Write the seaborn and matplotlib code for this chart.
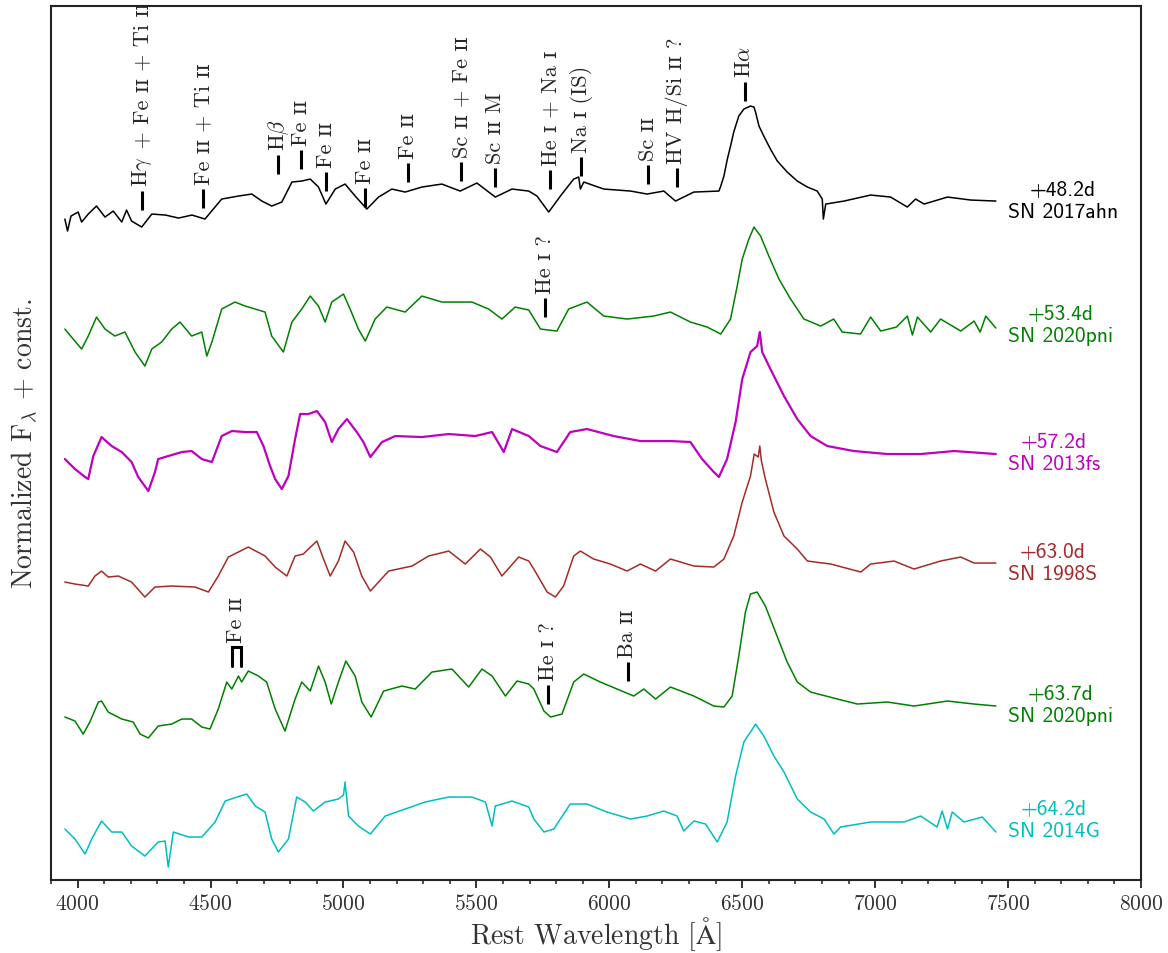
import numpy as np
import pandas as pd
import matplotlib
matplotlib.use("Agg")
import matplotlib.pyplot as plt
from matplotlib.ticker import MultipleLocator
import seaborn as sns

sns.set_style("ticks")
plt.rcParams["mathtext.fontset"] = "cm"
plt.rcParams["font.family"] = ["cmr10", "DejaVu Serif"]
plt.rcParams["axes.formatter.use_mathtext"] = True

# ---- spectra: rest wavelength [A] and normalized flux ----
wave_2017ahn = [3952, 3962, 3975, 4002, 4015, 4040, 4071, 4103, 4134, 4166, 4184, 4203, 4241, 4279,
                4330, 4380, 4430, 4479, 4542, 4605, 4655, 4693, 4730, 4768, 4806, 4843, 4875, 4906,
                4934, 4969, 5006, 5044, 5088, 5132, 5182, 5232, 5295, 5370, 5439, 5502, 5571, 5634,
                5697, 5728, 5772, 5816, 5866, 5885, 5891, 5904, 5979, 6080, 6142, 6205, 6249, 6318,
                6412, 6418, 6431, 6444, 6456, 6468, 6487, 6506, 6531, 6544, 6550, 6563, 6581, 6606,
                6632, 6669, 6707, 6745, 6782, 6801, 6805, 6814, 6883, 6983, 7058, 7121, 7152, 7184,
                7272, 7360, 7454]
flux_2017ahn = [0.81, 0.69, 0.84, 0.88, 0.78, 0.86, 0.94, 0.83, 0.89, 0.78, 0.90, 0.79, 0.73, 0.86,
                0.85, 0.82, 0.85, 0.81, 1.01, 1.04, 1.06, 0.99, 0.94, 0.98, 1.18, 1.19, 1.21, 1.13,
                0.96, 1.11, 1.16, 1.04, 0.91, 1.03, 1.11, 1.08, 1.13, 1.16, 1.09, 1.17, 1.03, 1.11,
                1.09, 1.04, 0.88, 1.04, 1.21, 1.23, 1.11, 1.18, 1.11, 1.09, 1.06, 1.09, 0.99, 1.08,
                1.09, 1.13, 1.24, 1.41, 1.54, 1.68, 1.84, 1.91, 1.94, 1.93, 1.88, 1.74, 1.64, 1.51,
                1.39, 1.28, 1.19, 1.13, 1.09, 1.01, 0.81, 0.96, 0.99, 1.05, 1.03, 0.93, 1.01, 0.96,
                1.03, 1.00, 0.99]

wave_2020pni_a = [3952, 3977, 4015, 4040, 4071, 4103, 4140, 4178, 4216, 4253, 4279, 4316, 4354, 4385,
                  4429, 4467, 4486, 4505, 4542, 4592, 4630, 4668, 4705, 4730, 4774, 4806, 4843, 4875,
                  4906, 4931, 4956, 5000, 5025, 5056, 5082, 5119, 5163, 5232, 5295, 5370, 5483, 5546,
                  5596, 5646, 5697, 5741, 5803, 5847, 5916, 5979, 6067, 6167, 6230, 6305, 6368, 6419,
                  6456, 6481, 6500, 6525, 6544, 6569, 6600, 6638, 6682, 6732, 6795, 6844, 6876, 6945,
                  6983, 7021, 7080, 7121, 7140, 7159, 7209, 7246, 7322, 7372, 7395, 7416, 7454]
flux_2020pni_a = [1.01, 0.93, 0.81, 0.94, 1.13, 1.01, 0.94, 0.98, 0.78, 0.64, 0.81, 0.88, 1.01, 1.08,
                  0.94, 0.98, 0.74, 0.88, 1.21, 1.28, 1.24, 1.21, 1.18, 0.94, 0.78, 1.08, 1.21, 1.34,
                  1.24, 1.08, 1.28, 1.36, 1.21, 1.01, 0.89, 1.11, 1.23, 1.18, 1.34, 1.28, 1.28, 1.21,
                  1.11, 1.23, 1.20, 1.01, 0.99, 1.21, 1.28, 1.14, 1.11, 1.14, 1.18, 1.08, 1.03, 0.96,
                  1.11, 1.44, 1.71, 1.91, 2.03, 1.94, 1.74, 1.51, 1.31, 1.11, 1.04, 1.11, 0.98, 0.96,
                  1.13, 0.99, 1.03, 1.14, 0.95, 1.13, 0.98, 1.11, 0.99, 1.09, 0.98, 1.14, 1.02]

wave_2013fs = [3952, 3990, 4028, 4040, 4059, 4090, 4128, 4166, 4203, 4228, 4266, 4291, 4303, 4341,
               4392, 4429, 4467, 4505, 4542, 4580, 4630, 4674, 4699, 4724, 4743, 4768, 4793, 4818,
               4837, 4868, 4900, 4931, 4956, 4981, 5013, 5050, 5075, 5101, 5145, 5195, 5295, 5396,
               5496, 5559, 5603, 5634, 5697, 5741, 5803, 5853, 5916, 6016, 6117, 6230, 6305, 6349,
               6393, 6412, 6443, 6475, 6500, 6531, 6556, 6566, 6575, 6606, 6657, 6707, 6757, 6820,
               6920, 7046, 7171, 7297, 7454]
flux_2013fs = [0.91, 0.81, 0.73, 0.71, 0.94, 1.13, 1.04, 0.98, 0.88, 0.73, 0.59, 0.78, 0.91, 0.94,
               0.98, 0.99, 0.91, 0.88, 1.14, 1.19, 1.18, 1.18, 1.04, 0.84, 0.71, 0.61, 0.74, 1.11,
               1.36, 1.36, 1.39, 1.28, 1.08, 1.21, 1.31, 1.18, 1.08, 0.93, 1.08, 1.14, 1.13, 1.16,
               1.14, 1.18, 0.98, 1.21, 1.14, 1.04, 0.98, 1.18, 1.21, 1.14, 1.09, 1.09, 1.08, 0.91,
               0.78, 0.73, 0.91, 1.28, 1.71, 1.98, 2.04, 2.18, 1.98, 1.81, 1.54, 1.31, 1.14, 1.04,
               0.99, 0.96, 0.96, 0.99, 0.96]

wave_1998S = [3952, 3990, 4040, 4065, 4090, 4115, 4153, 4203, 4253, 4291, 4354, 4442, 4492, 4529,
              4567, 4642, 4705, 4743, 4787, 4818, 4849, 4868, 4900, 4925, 4950, 4981, 5006, 5038,
              5069, 5101, 5170, 5258, 5320, 5396, 5458, 5515, 5553, 5596, 5659, 5697, 5716, 5766,
              5797, 5828, 5866, 5891, 5941, 6004, 6067, 6117, 6174, 6230, 6318, 6393, 6431, 6468,
              6500, 6531, 6545, 6560, 6566, 6572, 6587, 6619, 6657, 6707, 6745, 6833, 6946, 6983,
              7071, 7146, 7246, 7322, 7372, 7454]
flux_1998S = [0.78, 0.76, 0.74, 0.84, 0.89, 0.83, 0.84, 0.78, 0.63, 0.73, 0.74, 0.73, 0.68, 0.84,
              1.03, 1.13, 1.04, 0.93, 0.84, 1.04, 1.06, 1.11, 1.19, 1.01, 0.84, 0.99, 1.19, 1.08,
              0.84, 0.69, 0.89, 0.94, 1.04, 1.09, 0.96, 1.11, 1.03, 0.84, 1.03, 0.99, 0.91, 0.68,
              0.63, 0.74, 1.04, 1.09, 1.01, 0.96, 0.89, 0.96, 0.89, 1.01, 0.94, 0.93, 1.01, 1.24,
              1.58, 1.84, 2.06, 2.03, 2.14, 1.99, 1.81, 1.48, 1.24, 1.11, 0.99, 0.96, 0.88, 0.96,
              0.99, 0.91, 0.99, 1.03, 0.97, 0.97]

wave_2020pni_b = [3952, 3990, 4021, 4046, 4078, 4090, 4115, 4166, 4209, 4235, 4266, 4303, 4354, 4392,
                  4429, 4467, 4498, 4529, 4561, 4580, 4605, 4617, 4642, 4680, 4711, 4743, 4780, 4818,
                  4843, 4875, 4906, 4931, 4954, 4981, 5009, 5044, 5069, 5104, 5151, 5220, 5270, 5333,
                  5408, 5471, 5521, 5559, 5609, 5653, 5697, 5716, 5754, 5779, 5822, 5866, 5904, 5966,
                  6029, 6092, 6130, 6174, 6230, 6318, 6393, 6431, 6462, 6487, 6512, 6531, 6556, 6587,
                  6625, 6669, 6707, 6757, 6858, 6933, 7046, 7146, 7272, 7372, 7454]
flux_2020pni_b = [0.88, 0.84, 0.71, 0.83, 1.03, 1.04, 0.93, 0.86, 0.83, 0.71, 0.67, 0.79, 0.81, 0.86,
                  0.86, 0.78, 0.76, 0.96, 1.23, 1.16, 1.29, 1.23, 1.34, 1.29, 1.23, 0.96, 0.74, 1.06,
                  1.23, 1.14, 1.39, 1.23, 1.01, 1.23, 1.44, 1.29, 1.03, 0.88, 1.14, 1.19, 1.16, 1.33,
                  1.36, 1.18, 1.36, 1.29, 1.09, 1.24, 1.21, 1.16, 0.94, 0.88, 0.91, 1.23, 1.31, 1.23,
                  1.16, 1.09, 1.16, 1.06, 1.18, 1.09, 0.99, 0.98, 1.09, 1.49, 1.93, 2.11, 2.13, 1.99,
                  1.73, 1.43, 1.23, 1.13, 1.06, 1.01, 1.03, 0.99, 1.04, 1.01, 0.99]

wave_2014G = [3952, 3990, 4028, 4053, 4090, 4128, 4166, 4203, 4253, 4303, 4329, 4341, 4360, 4417,
              4467, 4517, 4555, 4599, 4636, 4668, 4705, 4730, 4755, 4793, 4824, 4856, 4887, 4931,
              4981, 5000, 5006, 5019, 5056, 5101, 5157, 5232, 5307, 5396, 5483, 5534, 5559, 5571,
              5634, 5697, 5716, 5754, 5791, 5853, 5916, 5991, 6080, 6142, 6205, 6255, 6280, 6318,
              6362, 6406, 6443, 6475, 6506, 6531, 6550, 6581, 6619, 6657, 6707, 6757, 6808, 6845,
              6870, 6983, 7108, 7171, 7233, 7252, 7272, 7290, 7334, 7403, 7454]
flux_2014G = [0.96, 0.86, 0.71, 0.86, 1.04, 0.93, 0.93, 0.79, 0.69, 0.83, 0.84, 0.58, 0.93, 0.88,
              0.88, 1.03, 1.24, 1.28, 1.31, 1.19, 1.13, 0.86, 0.73, 0.86, 1.28, 1.23, 1.14, 1.23,
              1.26, 1.30, 1.43, 1.09, 0.99, 0.91, 1.09, 1.16, 1.23, 1.28, 1.28, 1.23, 0.99, 1.19,
              1.24, 1.18, 1.06, 0.93, 0.96, 1.21, 1.21, 1.13, 1.06, 1.09, 1.14, 1.09, 0.94, 1.04,
              1.01, 0.83, 1.03, 1.49, 1.83, 1.93, 2.01, 1.89, 1.69, 1.53, 1.26, 1.13, 1.06, 0.91,
              0.98, 1.03, 1.03, 1.09, 0.98, 1.14, 0.96, 1.13, 1.03, 1.08, 0.93]

names = ["SN 2017ahn", "SN 2020pni", "SN 2013fs", "SN 1998S", "SN 2020pni", "SN 2014G"]
phases = ["+48.2d", "+53.4d", "+57.2d", "+63.0d", "+63.7d", "+64.2d"]
offsets = [5.8, 4.5, 3.3, 2.2, 0.75, -0.45]
colors = ["black", "green", "m", "brown", "green", "c"]
waves = [wave_2017ahn, wave_2020pni_a, wave_2013fs, wave_1998S, wave_2020pni_b, wave_2014G]
fluxes = [flux_2017ahn, flux_2020pni_a, flux_2013fs, flux_1998S, flux_2020pni_b, flux_2014G]

# ---- line identifications ----
line_waves = [4243, 4473, 4755, 4841, 4934, 5082, 5242, 5442, 5571, 5778, 5895, 6146, 6253, 6509,
              5759, 5770, 6069]
line_names = [r"H$\gamma$ + Fe ɪɪ + Ti ɪɪ", "Fe ɪɪ + Ti ɪɪ", r"H$\beta$", "Fe ɪɪ", "Fe ɪɪ", "Fe ɪɪ",
              "Fe ɪɪ", "Sc ɪɪ + Fe ɪɪ", "Sc ɪɪ M", "He ɪ + Na ɪ", "Na ɪ (IS)", "Sc ɪɪ",
              "HV H/Si ɪɪ ?", r"H$\alpha$", "He ɪ ?", "He ɪ ?", "Ba ɪɪ"]
line_heights = [6.70, 6.72, 7.06, 7.11, 6.89, 6.73, 6.98, 6.99, 6.93, 6.91, 7.04, 6.96, 6.93, 7.79,
                5.63, 1.76, 1.99]
blend_waves = [4582, 4615]
blend_height = 2.14
blend_name = "Fe ɪɪ"

rows = []
for k, (w, f, off) in enumerate(zip(waves, fluxes, offsets)):
    for wi, fi in zip(w, f):
        rows.append({"spec": k, "wave": wi, "flux": fi + off})
df = pd.DataFrame(rows)

fig = plt.figure(figsize=(11.68, 9.54), dpi=100)
ax = fig.add_axes([0.0437, 0.0765, 0.9332, 0.9161])

for k, c in enumerate(colors):
    sub = df[df["spec"] == k]
    sns.lineplot(data=sub, x="wave", y="flux", color=c, lw=1.1 if k != 2 else 1.6,
                 sort=False, estimator=None, ax=ax)
    f = np.asarray(fluxes[k])
    ax.text(7500, np.median(f[-6:]) + offsets[k], f"{phases[k]}\n{names[k]}", color=c,
            ha="left", va="center", multialignment="center", fontsize=15.5,
            family=["cmss10", "DejaVu Sans"])

dash = 0.19
label_kw = dict(rotation=90, ha="center", va="bottom", fontsize=16, clip_on=True)
for w, lab, h in zip(line_waves, line_names, line_heights):
    ax.plot([w, w], [h, h + dash], color="black", lw=2.2, solid_capstyle="butt")
    if "$" in lab and "ɪ" in lab:
        # math part (Greek letter) first, plain-text ion stages stacked after it
        head, tail = lab.rsplit("$", 1)
        t = ax.text(w, h + dash + 0.05, head + "$", **label_kw)
        ax.annotate(tail, xy=(0.5, 1.0), xycoords=t, annotation_clip=False, **label_kw)
    else:
        ax.text(w, h + dash + 0.05, lab, **label_kw)

# bracket for the Fe II blend
bx = [blend_waves[0], blend_waves[0], blend_waves[1], blend_waves[1]]
by = [blend_height, blend_height + dash, blend_height + dash, blend_height]
ax.plot(bx, by, color="black", lw=2.2, solid_joinstyle="miter")
ax.text(np.mean(blend_waves), blend_height + dash + 0.05, blend_name, **label_kw)

ax.set_xlim(3900, 8000)
ax.set_ylim(0, 8.74)
ax.set_yticks([])
ax.xaxis.set_major_locator(MultipleLocator(500))
ax.xaxis.set_minor_locator(MultipleLocator(100))
ax.tick_params(axis="x", which="major", length=6, width=1.3, labelsize=15.5, color="#222222",
               labelcolor="#333333")
ax.tick_params(axis="x", which="minor", length=3, width=1.1, color="#222222")
for s in ax.spines.values():
    s.set_linewidth(1.5)
    s.set_color("#222222")
ax.set_xlabel(r"Rest Wavelength [$\mathrm{\AA}$]", fontsize=20, color="#333333", labelpad=1)
ax.set_ylabel(r"Normalized F$_\lambda$ + const.", fontsize=20, color="#333333", labelpad=8)

fig.savefig("out.png", dpi=100)
